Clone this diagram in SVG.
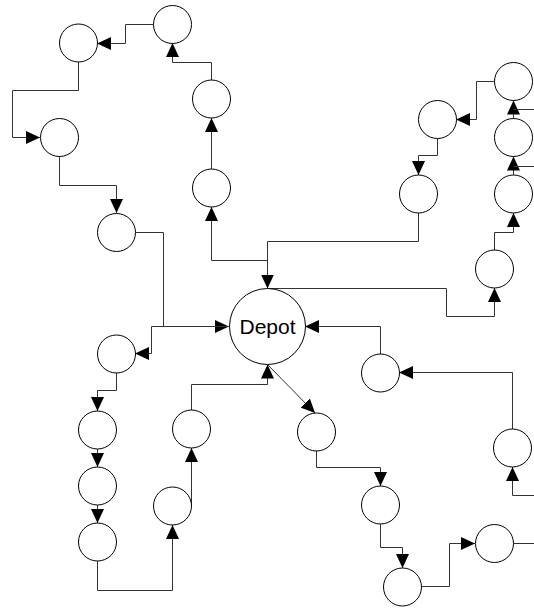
<svg xmlns="http://www.w3.org/2000/svg" width="534" height="608" viewBox="0 0 534 608">
<style>
.n{fill:#fff;stroke:#000;stroke-width:1}
.e{fill:none;stroke:#333;stroke-width:1}
.a{marker-end:url(#arr)}
.t{font-family:"Liberation Sans",Arial,sans-serif;font-size:21px;fill:#000;text-anchor:middle}
</style>
<defs>
<marker id="arr" markerUnits="userSpaceOnUse" markerWidth="14" markerHeight="13" refX="14" refY="6.5" orient="auto">
<path d="M0,0 L14,6.5 L0,13 z" fill="#000"/>
</marker>
</defs>
<rect width="534" height="608" fill="#fff"/>
<g id="connectors">
<path class="e a" d="M135,232.5 H163.5 V326.5 H229"/>
<path class="e a" d="M229,326.5 H151.5 V353.5 H135"/>
<path class="e a" d="M116.5,373 V390.5 H97.5 V411"/>
<path class="e a" d="M97.5,449 V467"/>
<path class="e a" d="M97.5,505 V523"/>
<path class="e a" d="M97.5,561 V590.5 H172.5 V525"/>
<path class="e a" d="M191.5,506 V448"/>
<path class="e a" d="M191.5,410 V384.5 H267.5 V364.5"/>
<path class="e a" d="M268,365 L315,413"/>
<path class="e a" d="M316.5,451 V467.5 H380.5 V486"/>
<path class="e a" d="M380.5,524 V547.5 H402.5 V568"/>
<path class="e a" d="M421,586.5 H449.5 V543.5 H475"/>
<path class="e" d="M513,543.5 H534"/>
<path class="e a" d="M534,495.5 H512.5 V467"/>
<path class="e a" d="M512.5,429 V372.5 H399"/>
<path class="e a" d="M380.5,354 V326.5 H305"/>
<path class="e a" d="M267.5,288.5 V260.5 H211.5 V207"/>
<path class="e a" d="M211.5,169 V118"/>
<path class="e a" d="M211.5,80 V62.5 H172.5 V43"/>
<path class="e a" d="M154,24.5 H125.5 V43.5 H97"/>
<path class="e a" d="M78.5,62 V90.5 H12.5 V137.5 H40"/>
<path class="e a" d="M59.5,156 V185.5 H116.5 V213"/>
<path class="e a" d="M418.5,213 V241.5 H267.5 V288.5"/>
<path class="e a" d="M267.5,288.5 H446.5 V316.5 H494.5 V288"/>
<path class="e a" d="M494.5,250 V232.5 H513.5 V213"/>
<path class="e a" d="M513.5,175 V156.5"/>
<path class="e" d="M534,166.5 H513.5"/>
<path class="e a" d="M513.5,118.5 V100.5"/>
<path class="e" d="M534,109.5 H513.5"/>
<path class="e a" d="M494,81.5 H476.5 V119.5 H456"/>
<path class="e a" d="M437.5,138 V155.5 H418.5 V175"/>
</g>
<g id="depot"><circle class="n" cx="267.5" cy="326.5" r="38"/><text class="t" x="267.5" y="333.5">Depot</text></g>
<g id="nA"><circle class="n" cx="78.5" cy="43" r="19"/></g>
<g id="nB"><circle class="n" cx="172.5" cy="24.5" r="19"/></g>
<g id="nC"><circle class="n" cx="59.5" cy="137.5" r="19"/></g>
<g id="nD"><circle class="n" cx="116.5" cy="232.5" r="19"/></g>
<g id="nE"><circle class="n" cx="211.5" cy="99" r="19"/></g>
<g id="nF"><circle class="n" cx="211.5" cy="188" r="19"/></g>
<g id="nG"><circle class="n" cx="494.5" cy="269" r="19"/></g>
<g id="nH"><circle class="n" cx="513.5" cy="194" r="19"/></g>
<g id="nI"><circle class="n" cx="513.5" cy="137.5" r="19"/></g>
<g id="nJ"><circle class="n" cx="513.5" cy="81.5" r="19"/></g>
<g id="nK"><circle class="n" cx="437.5" cy="119.5" r="19"/></g>
<g id="nL"><circle class="n" cx="418.5" cy="194" r="19"/></g>
<g id="nM"><circle class="n" cx="116.5" cy="354" r="19"/></g>
<g id="nN"><circle class="n" cx="97.5" cy="430" r="19"/></g>
<g id="nO"><circle class="n" cx="97.5" cy="486" r="19"/></g>
<g id="nP"><circle class="n" cx="97.5" cy="542" r="19"/></g>
<g id="nQ"><circle class="n" cx="172.5" cy="506" r="19"/></g>
<g id="nR"><circle class="n" cx="191.5" cy="429" r="19"/></g>
<g id="nS"><circle class="n" cx="316.5" cy="432" r="19"/></g>
<g id="nT"><circle class="n" cx="380.5" cy="505" r="19"/></g>
<g id="nU"><circle class="n" cx="402.5" cy="587" r="19"/></g>
<g id="nV"><circle class="n" cx="494.5" cy="543.5" r="19"/></g>
<g id="nW"><circle class="n" cx="512.5" cy="448" r="19"/></g>
<g id="nX"><circle class="n" cx="380.5" cy="373" r="19"/></g>
</svg>
